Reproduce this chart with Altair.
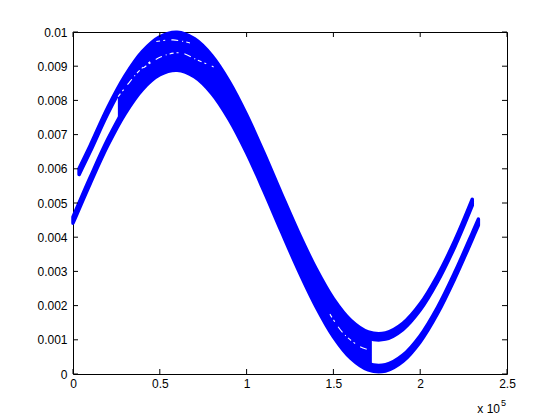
import altair as alt
import pandas as pd

# ---- values ----
# x in units of 1e5 (as shown on the axis), y in units of 1e-3
upper_x = [0.035, 0.1, 0.2, 0.3, 0.4, 0.5, 0.6, 0.7, 0.8, 0.9, 1.0, 1.1, 1.2,
           1.3, 1.4, 1.5, 1.6, 1.7, 1.8, 1.9, 2.0, 2.1, 2.2, 2.3]
upper_y = [5.92, 6.60, 7.70, 8.63, 9.34, 9.77, 9.90, 9.71, 9.22, 8.46, 7.49, 6.37,
           5.19, 4.04, 2.99, 2.11, 1.48, 1.14, 1.11, 1.39, 1.96, 2.79, 3.82, 5.02]

lower_x = [0.0, 0.1, 0.2, 0.3, 0.4, 0.5, 0.6, 0.7, 0.8, 0.9, 1.0, 1.1, 1.2,
           1.3, 1.4, 1.5, 1.6, 1.7, 1.8, 1.9, 2.0, 2.1, 2.2, 2.3, 2.335]
lower_y = [4.50, 5.67, 6.77, 7.70, 8.41, 8.84, 8.97, 8.78, 8.29, 7.53, 6.56, 5.44,
           4.26, 3.11, 2.06, 1.18, 0.55, 0.21, 0.18, 0.46, 1.03, 1.86, 2.89, 4.03, 4.44]

# the dense middle part of the band (many overlapping curves)
fill_x = [0.27, 0.3, 0.4, 0.5, 0.6, 0.7, 0.8, 0.9, 1.0, 1.1, 1.2, 1.3, 1.4,
          1.5, 1.6, 1.7, 1.71]
fill_top = [8.37, 8.63, 9.34, 9.77, 9.90, 9.71, 9.22, 8.46, 7.49, 6.37, 5.19,
            4.04, 2.99, 2.11, 1.48, 1.14, 1.12]
fill_bot = [7.44, 7.70, 8.41, 8.84, 8.97, 8.78, 8.29, 7.53, 6.56, 5.44, 4.26,
            3.11, 2.06, 1.18, 0.55, 0.21, 0.20]

# thin white gaps visible inside the band
gap_a_x = [0.48, 0.576, 0.674]
gap_a_y = [9.72, 9.77, 9.68]
gap_b_x = [0.405, 0.504, 0.619, 0.717, 0.81]
gap_b_y = [8.95, 9.27, 9.39, 9.18, 8.98]
gap_c_x = [0.26, 0.328, 0.386, 0.444]
gap_c_y = [8.11, 8.55, 8.89, 9.13]
gap_d_x = [1.48, 1.557, 1.653, 1.711]
gap_d_y = [1.75, 1.19, 0.80, 0.70]

x_ticks = [0, 0.5, 1, 1.5, 2, 2.5]
y_ticks = [0, 0.001, 0.002, 0.003, 0.004, 0.005, 0.006, 0.007, 0.008, 0.009, 0.01]
exp_text = ["x 10"]
exp_power = ["5"]

# ---- styling ----
W, H = 434, 342
BLUE = "#0000ff"
HALF = 0.09   # half spread of each branch (1e-3 units)
TICK = 5
FONT = "Liberation Sans"

df_u = pd.DataFrame({"x": upper_x,
                     "lo": [(v - HALF) / 1000 for v in upper_y],
                     "hi": [(v + HALF) / 1000 for v in upper_y]})
df_l = pd.DataFrame({"x": lower_x,
                     "lo": [(v - HALF) / 1000 for v in lower_y],
                     "hi": [(v + HALF) / 1000 for v in lower_y]})
df_f = pd.DataFrame({"x": fill_x,
                     "lo": [v / 1000 for v in fill_bot],
                     "hi": [v / 1000 for v in fill_top]})
gap_rows = []
for gid, gx, gy in (("a", gap_a_x, gap_a_y), ("b", gap_b_x, gap_b_y),
                    ("c", gap_c_x, gap_c_y), ("d", gap_d_x, gap_d_y)):
    for xv, yv in zip(gx, gy):
        gap_rows.append({"g": gid, "x": xv, "lo": yv / 1000})
df_g = pd.DataFrame(gap_rows)
df_xt = pd.DataFrame({"x": x_ticks})
df_yt = pd.DataFrame({"lo": y_ticks})

xscale = alt.Scale(domain=[0, 2.5], nice=False, zero=False)
yscale = alt.Scale(domain=[0, 0.01], nice=False, zero=False)
xaxis = alt.Axis(values=x_ticks, format="~g", title=None, labelPadding=4,
                 labelFlush=False, labelOverlap=False)
yaxis = alt.Axis(values=y_ticks, format="~g", title=None, labelPadding=6,
                 labelOverlap=False)


def X():
    return alt.X("x:Q", scale=xscale, axis=xaxis)


def Y():
    return alt.Y("lo:Q", scale=yscale, axis=yaxis)


def band(df, sw):
    return alt.Chart(df).mark_area(
        color=BLUE, fill=BLUE, stroke=BLUE, strokeWidth=sw, strokeJoin="round",
        interpolate="catmull-rom", opacity=1
    ).encode(x=X(), y=Y(), y2="hi:Q")


fill_layer = band(df_f, 4)
upper_layer = band(df_u, 3.5)
lower_layer = band(df_l, 3.5)

gaps = alt.Chart(df_g).mark_line(
    color="white", strokeWidth=1.1, strokeDash=[4, 3, 2, 6, 7, 4, 1, 3],
    interpolate="catmull-rom"
).encode(x=X(), y=Y(), detail="g:N")

tick_style = dict(color="black", strokeWidth=1)
xt_bottom = alt.Chart(df_xt).mark_rule(**tick_style).encode(
    x=X(), y=alt.value(H), y2=alt.value(H - TICK))
xt_top = alt.Chart(df_xt).mark_rule(**tick_style).encode(
    x=X(), y=alt.value(0), y2=alt.value(TICK))
yt_left = alt.Chart(df_yt).mark_rule(**tick_style).encode(
    y=Y(), x=alt.value(0), x2=alt.value(TICK))
yt_right = alt.Chart(df_yt).mark_rule(**tick_style).encode(
    y=Y(), x=alt.value(W), x2=alt.value(W - TICK))

exp_a = alt.Chart(pd.DataFrame({"t": exp_text})).mark_text(
    align="right", baseline="alphabetic", font=FONT, fontSize=12, color="black"
).encode(text="t:N", x=alt.value(427), y=alt.value(381))
exp_b = alt.Chart(pd.DataFrame({"t": exp_power})).mark_text(
    align="left", baseline="alphabetic", font=FONT, fontSize=9, color="black"
).encode(text="t:N", x=alt.value(428), y=alt.value(374))

chart = alt.layer(
    fill_layer, upper_layer, lower_layer, gaps,
    xt_bottom, xt_top, yt_left, yt_right, exp_a, exp_b
).properties(
    width=W, height=H,
    autosize=alt.AutoSizeParams(type="none"),
    padding={"left": 65, "top": 24, "right": 30, "bottom": 44},
    background="white",
).configure_view(
    stroke="black", strokeWidth=1
).configure_axis(
    labelFont=FONT, labelFontSize=12, labelColor="black",
    grid=False, domain=False, ticks=False
)

chart.save("out.html", embed_options={"renderer": "svg", "actions": False})
